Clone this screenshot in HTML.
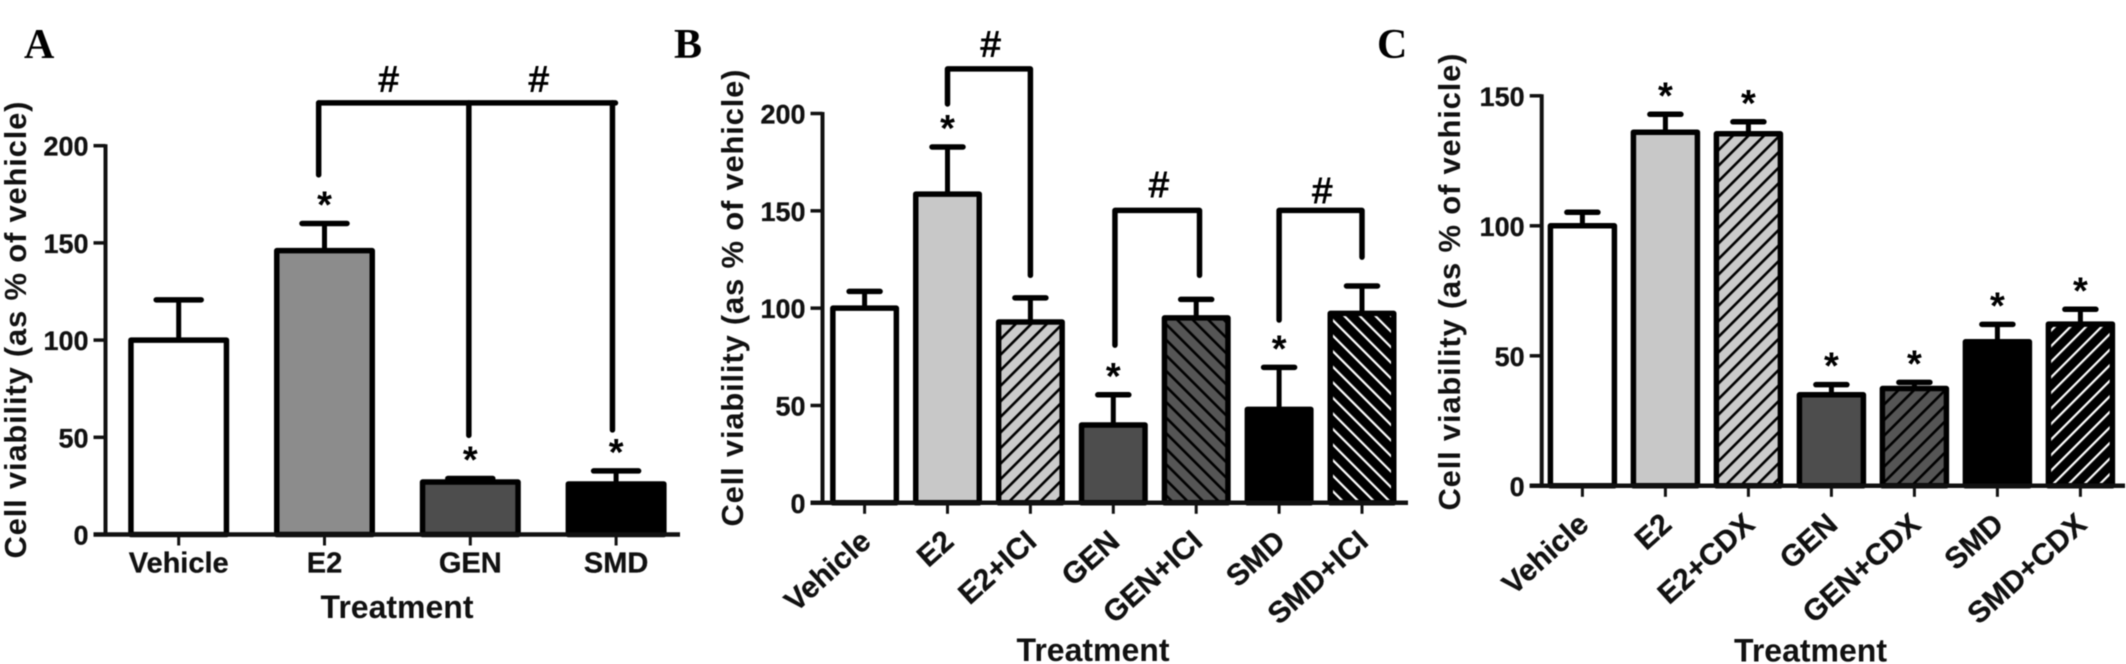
<!DOCTYPE html>
<html lang="en">
<head>
<meta charset="utf-8">
<title>Cell viability by treatment</title>
<style>
html,body{margin:0;padding:0;background:#fff;}
svg{display:block;filter:blur(.45px);}
text{font-family:"Liberation Sans",Arial,sans-serif;fill:#111;}
</style>
</head>
<body>
<svg id="figure" xmlns="http://www.w3.org/2000/svg" width="2126" height="664" viewBox="0 0 2126 664">
<defs>
<pattern id="h-e2-f" patternUnits="userSpaceOnUse" width="11" height="11" patternTransform="rotate(45)"><rect width="11" height="11" fill="#cbcbcb"/><rect x="0" width="2.6" height="11" fill="#000"/></pattern>
<pattern id="h-gen-b" patternUnits="userSpaceOnUse" width="11" height="11" patternTransform="rotate(-45)"><rect width="11" height="11" fill="#555"/><rect x="0" width="2.6" height="11" fill="#000"/></pattern>
<pattern id="h-gen-f" patternUnits="userSpaceOnUse" width="11" height="11" patternTransform="rotate(45)"><rect width="11" height="11" fill="#555"/><rect x="0" width="2.6" height="11" fill="#000"/></pattern>
<pattern id="h-smd-b" patternUnits="userSpaceOnUse" width="11" height="11" patternTransform="rotate(-45)"><rect width="11" height="11" fill="#000"/><rect x="0" width="2.2" height="11" fill="#fff"/></pattern>
<pattern id="h-smd-f" patternUnits="userSpaceOnUse" width="11" height="11" patternTransform="rotate(45)"><rect width="11" height="11" fill="#000"/><rect x="0" width="2.2" height="11" fill="#fff"/></pattern>
</defs>
</svg>
<script>
// Panel A data
const categoriesA = ["Vehicle","E2","GEN","SMD"];
const valuesA = [100,146,27,26];
const errorsA = [20.7,14,1.8,6.7];
const starsA = [false,true,true,true];
const yTicksA = [0,50,100,150,200];
const bracketTopA = [222];
const dropCategoryA = [0.96,1.99,2.975];
const dropEndA = [185,51,53.8];
const hashCategoryA = [1.44,2.47];
const hashValueA = [234.6,234.6];

// Panel B data
const categoriesB = ["Vehicle","E2","E2+ICI","GEN","GEN+ICI","SMD","SMD+ICI"];
const valuesB = [100,158.6,92.9,40,95,48,97.3];
const errorsB = [8.6,24.2,12.4,15.5,9.5,21.6,14.1];
const starsB = [false,true,false,true,false,true,false];
const yTicksB = [0,50,100,150,200];
const bracketStartB = [1,3.02,5];
const bracketEndB = [2,4.04,6];
const bracketTopB = [222.9,150.2,150.2];
const bracketLeftEndB = [204.9,81,93.9];
const bracketRightEndB = [116.9,116.9,126.2];
const hashCategoryB = [1.52,3.55,5.52];
const hashValueB = [235.9,163.8,160.7];

// Panel C data
const categoriesC = ["Vehicle","E2","E2+CDX","GEN","GEN+CDX","SMD","SMD+CDX"];
const valuesC = [100,136,135.4,35,37.4,55.4,62.2];
const errorsC = [5.2,6.9,4.6,3.9,2.4,6.7,5.7];
const starsC = [false,true,true,true,true,true,true];
const yTicksC = [0,50,100,150];

const svg = document.getElementById('figure');
const NS = 'http://www.w3.org/2000/svg';

function make(tag, attrs, text) {
  const el = document.createElementNS(NS, tag);
  for (const k in attrs) el.setAttribute(k, attrs[k]);
  if (text !== undefined) el.textContent = text;
  return el;
}

function barFill(name, solidE2) {
  if (name === 'Vehicle') return '#fff';
  const dir = name.endsWith('+ICI') && !name.startsWith('E2') ? 'b' : 'f';
  if (name.includes('+')) {
    if (name.startsWith('E2')) return 'url(#h-e2-f)';
    if (name.startsWith('GEN')) return 'url(#h-gen-' + dir + ')';
    return 'url(#h-smd-' + dir + ')';
  }
  if (name === 'E2') return solidE2;
  if (name === 'GEN') return '#4d4d4d';
  return '#000';
}

function drawPanel(p) {
  const g = make('g', {});
  
  
  svg.appendChild(g);

  const xOf = i => p.x0 + i * p.step;
  const yOf = v => p.y0 - v * p.unit;
  p.xOf = xOf; p.yOf = yOf; p.g = g;

  // panel letter
  const letter = make('text', {x: p.letterX, y: 58, style: 'font-family:"Liberation Serif",serif;font-weight:700;font-size:42px;fill:#000'}, p.letter);
  
  
  g.appendChild(letter);

  // bars
  p.categories.forEach((name, i) => {
    const bw = p.barW;
    const bar = make('rect', {x: xOf(i) - bw / 2 + 2.75, y: yOf(p.values[i]), width: bw - 5.5, height: p.y0 - yOf(p.values[i]), fill: barFill(name, p.solidE2), stroke: '#000', 'stroke-width': 5.5, 'stroke-linejoin': 'round'});
    
    
    g.appendChild(bar);

    const top = yOf(p.values[i] + p.errors[i]);
    const stem = make('line', {x1: xOf(i), x2: xOf(i), y1: yOf(p.values[i]), y2: top, stroke: '#000', 'stroke-width': 5});
    
    
    g.appendChild(stem);

    const cap = make('line', {x1: xOf(i) - p.capW / 2 + 2.5, x2: xOf(i) + p.capW / 2 - 2.5, y1: top, y2: top, stroke: '#000', 'stroke-width': 5.5, 'stroke-linecap': 'round'});
    
    
    g.appendChild(cap);

    if (p.stars[i]) {
      const star = make('text', {x: xOf(i), y: top, 'text-anchor': 'middle', dy: -6, style: 'font-size:38px;font-weight:700;fill:#000'}, '*');
      
      
      g.appendChild(star);
    }

    const tick = make('line', {x1: xOf(i), x2: xOf(i), y1: p.y0, y2: p.y0 + 11, stroke: '#111', 'stroke-width': 3});
    
    
    g.appendChild(tick);

    let lab;
    if (p.rotate) {
      const ax = xOf(i) + 8, ay = p.y0 + 41;
      lab = make('text', {x: ax, y: ay, 'text-anchor': 'end', transform: 'rotate(-42 ' + ax + ' ' + ay + ')', style: 'font-size:30px;font-weight:700;stroke:#111;stroke-width:.3px'}, name);
    } else {
      lab = make('text', {x: xOf(i), y: p.y0 + 38, 'text-anchor': 'middle', style: 'font-size:29px;font-weight:700;stroke:#111;stroke-width:.3px'}, name);
    }
    
    
    g.appendChild(lab);
  });

  // axes
  const yAxisTop = yOf(p.yTicks[p.yTicks.length - 1]);
  const yAxis = make('line', {x1: p.axisX, x2: p.axisX, y1: yAxisTop - 1.5, y2: p.y0, stroke: '#111', 'stroke-width': 4});
  
  
  g.appendChild(yAxis);

  const xAxis = make('line', {x1: p.axisX - 12, x2: p.axisEnd, y1: p.y0, y2: p.y0, stroke: '#111', 'stroke-width': 4.5});
  
  
  g.appendChild(xAxis);

  p.yTicks.forEach(v => {
    const t = make('line', {x1: p.axisX - 12, x2: p.axisX, y1: yOf(v), y2: yOf(v), stroke: '#111', 'stroke-width': 3.5});
    
    
    g.appendChild(t);

    const lab = make('text', {x: p.axisX - 17, y: yOf(v) + 10, 'text-anchor': 'end', style: 'font-size:27px;font-weight:700;stroke:#111;stroke-width:.3px'}, String(v));
    
    
    g.appendChild(lab);
  });

  // axis titles
  const yt = make('text', {x: p.titleX, y: p.titleY, 'text-anchor': 'middle', textLength: 457, lengthAdjust: 'spacing', transform: 'rotate(-90 ' + p.titleX + ' ' + p.titleY + ')', style: 'font-size:31px;font-weight:700'}, 'Cell viability (as % of vehicle)');
  
  
  g.appendChild(yt);

  const xt = make('text', {x: p.xTitleX, y: p.xTitleY, 'text-anchor': 'middle', style: 'font-size:32px;font-weight:700'}, 'Treatment');
  
  
  g.appendChild(xt);
  return p;
}

function bracketPath(p, d) {
  const path = make('path', {d: d, fill: 'none', stroke: '#000', 'stroke-width': 5.5, 'stroke-linecap': 'round', 'stroke-linejoin': 'round'});
  
  
  p.g.appendChild(path);
}

function hashMark(p, cat, val) {
  const h = make('text', {x: p.xOf(cat), y: p.yOf(val) + 13, 'text-anchor': 'middle', style: 'font-size:36px;fill:#000;stroke:#000;stroke-width:1px'}, '#');
  
  
  p.g.appendChild(h);
}

const panelA = drawPanel({id:'panel-a', letter:'A', letterX:24, categories:categoriesA, values:valuesA, errors:errorsA, stars:starsA, yTicks:yTicksA,
  x0:178.7, step:145.8, y0:534.5, unit:1.944, barW:101, capW:50, axisX:105.5, axisEnd:680, solidE2:'#8c8c8c', rotate:false,
  titleX:26, titleY:330, xTitleX:397, xTitleY:618});
const panelB = drawPanel({id:'panel-b', letter:'B', letterX:674, categories:categoriesB, values:valuesB, errors:errorsB, stars:starsB, yTicks:yTicksB,
  x0:864.6, step:82.9, y0:502.8, unit:1.9465, barW:69, capW:36, axisX:822.5, axisEnd:1408, solidE2:'#c8c8c8', rotate:true,
  titleX:743, titleY:298, xTitleX:1093, xTitleY:661});
const panelC = drawPanel({id:'panel-c', letter:'C', letterX:1377, categories:categoriesC, values:valuesC, errors:errorsC, stars:starsC, yTicks:yTicksC,
  x0:1582.4, step:83, y0:485.8, unit:2.6, barW:69.5, capW:36, axisX:1541.7, axisEnd:2125, solidE2:'#c8c8c8', rotate:true,
  titleX:1460, titleY:282, xTitleX:1810.5, xTitleY:661.5});

// Panel A spine with three drops
(function () {
  const top = panelA.yOf(bracketTopA[0]);
  const xs = dropCategoryA.map(panelA.xOf);
  bracketPath(panelA, 'M' + xs[0] + ' ' + top + 'H' + (xs[2] + 3));
  dropCategoryA.forEach((c, i) => {
    bracketPath(panelA, 'M' + panelA.xOf(c) + ' ' + top + 'V' + panelA.yOf(dropEndA[i]));
  });
  hashCategoryA.forEach((c, i) => hashMark(panelA, c, hashValueA[i]));
})();

// Panel B brackets
bracketStartB.forEach((c, i) => {
  const x1 = panelB.xOf(c), x2 = panelB.xOf(bracketEndB[i]), t = panelB.yOf(bracketTopB[i]);
  bracketPath(panelB, 'M' + x1 + ' ' + panelB.yOf(bracketLeftEndB[i]) + 'V' + t + 'H' + x2 + 'V' + panelB.yOf(bracketRightEndB[i]));
  hashMark(panelB, hashCategoryB[i], hashValueB[i]);
});
</script>
</body>
</html>
